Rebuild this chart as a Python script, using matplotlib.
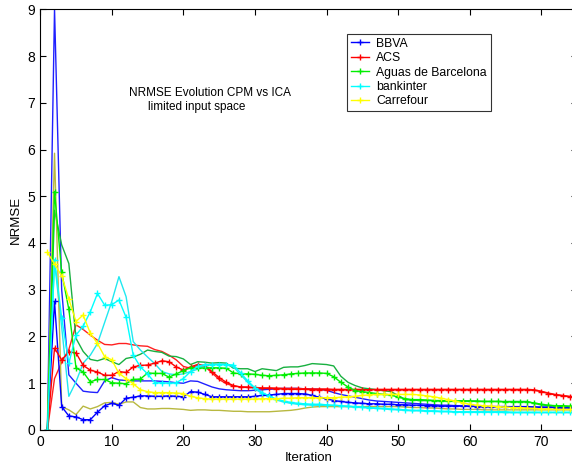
import matplotlib
matplotlib.use("Agg")
import matplotlib.pyplot as plt
import numpy as np

plt.rcParams['font.family'] = ['Liberation Sans', 'DejaVu Sans']

iterations = list(range(1, 76))

labels = ["BBVA", "ACS", "Aguas de Barcelona", "bankinter", "Carrefour"]

# CPM series (with + markers)
bbva_cpm = [0, 2.75, 0.50, 0.30, 0.28, 0.22, 0.22, 0.38, 0.52, 0.57,
            0.53, 0.68, 0.70, 0.73, 0.73, 0.72, 0.72, 0.73, 0.72, 0.71,
            0.82, 0.81, 0.76, 0.71, 0.71, 0.71, 0.71, 0.71, 0.71, 0.72,
            0.74, 0.75, 0.76, 0.78, 0.78, 0.78, 0.77, 0.74, 0.70, 0.67,
            0.63, 0.61, 0.59, 0.58, 0.57, 0.56, 0.56, 0.55, 0.55, 0.54,
            0.54, 0.53, 0.53, 0.52, 0.52, 0.51, 0.51, 0.51, 0.51, 0.51,
            0.50, 0.50, 0.50, 0.50, 0.50, 0.50, 0.50, 0.50, 0.49, 0.49,
            0.49, 0.48, 0.48, 0.48, 0.48]
acs_cpm = [0, 1.75, 1.50, 1.67, 1.65, 1.38, 1.28, 1.24, 1.17, 1.17,
           1.25, 1.23, 1.35, 1.38, 1.39, 1.43, 1.48, 1.46, 1.35, 1.28,
           1.35, 1.40, 1.38, 1.25, 1.12, 1.02, 0.95, 0.92, 0.91, 0.90,
           0.89, 0.89, 0.88, 0.88, 0.87, 0.87, 0.87, 0.86, 0.86, 0.86,
           0.86, 0.86, 0.86, 0.86, 0.86, 0.86, 0.86, 0.86, 0.86, 0.86,
           0.86, 0.86, 0.86, 0.86, 0.86, 0.86, 0.86, 0.86, 0.86, 0.86,
           0.86, 0.86, 0.86, 0.86, 0.86, 0.86, 0.86, 0.86, 0.85, 0.82,
           0.78, 0.75, 0.73, 0.71, 0.70]
aguas_cpm = [0, 5.10, 3.37, 2.58, 1.33, 1.24, 1.03, 1.08, 1.08, 1.01,
             1.00, 0.99, 1.08, 1.09, 1.22, 1.21, 1.21, 1.13, 1.20, 1.27,
             1.33, 1.32, 1.33, 1.33, 1.33, 1.32, 1.22, 1.20, 1.20, 1.19,
             1.17, 1.16, 1.17, 1.18, 1.20, 1.21, 1.22, 1.22, 1.22, 1.21,
             1.14, 1.02, 0.92, 0.84, 0.82, 0.80, 0.78, 0.76, 0.75, 0.70,
             0.67, 0.65, 0.65, 0.64, 0.63, 0.63, 0.62, 0.62, 0.62, 0.62,
             0.61, 0.61, 0.61, 0.61, 0.60, 0.60, 0.60, 0.60, 0.58, 0.55,
             0.53, 0.52, 0.52, 0.51, 0.51]
bankinter_cpm = [0, 3.64, 2.40, 1.43, 2.03, 2.22, 2.53, 2.92, 2.67, 2.68,
                 2.78, 2.41, 1.60, 1.35, 1.20, 1.01, 1.01, 1.00, 1.01, 1.10,
                 1.25, 1.36, 1.40, 1.40, 1.40, 1.40, 1.39, 1.22, 1.05, 0.90,
                 0.80, 0.73, 0.66, 0.62, 0.59, 0.57, 0.56, 0.55, 0.55, 0.54,
                 0.53, 0.52, 0.51, 0.50, 0.49, 0.48, 0.47, 0.46, 0.45, 0.44,
                 0.43, 0.42, 0.42, 0.41, 0.41, 0.40, 0.40, 0.39, 0.39, 0.39,
                 0.39, 0.39, 0.39, 0.39, 0.39, 0.38, 0.38, 0.38, 0.38, 0.38,
                 0.38, 0.38, 0.38, 0.38, 0.38]
carrefour_cpm = [3.80, 3.55, 3.30, 2.80, 2.32, 2.46, 2.07, 1.85, 1.57, 1.50,
                 1.21, 1.10, 0.99, 0.86, 0.82, 0.80, 0.80, 0.80, 0.79, 0.78,
                 0.72, 0.69, 0.67, 0.66, 0.66, 0.66, 0.66, 0.66, 0.66, 0.66,
                 0.67, 0.67, 0.67, 0.68, 0.68, 0.69, 0.69, 0.69, 0.69, 0.69,
                 0.69, 0.70, 0.71, 0.72, 0.74, 0.75, 0.76, 0.76, 0.76, 0.76,
                 0.76, 0.76, 0.75, 0.73, 0.71, 0.68, 0.65, 0.62, 0.58, 0.55,
                 0.53, 0.52, 0.51, 0.50, 0.49, 0.48, 0.48, 0.47, 0.46, 0.45,
                 0.45, 0.44, 0.44, 0.44, 0.44]

# ICA series (plain lines)
bbva_ica = [0, 9.00, 3.00, 1.18, 1.00, 0.83, 0.81, 0.80, 1.05, 1.12,
            1.07, 1.06, 1.05, 1.05, 1.05, 1.05, 1.04, 1.03, 1.01, 1.00,
            1.05, 1.04, 0.98, 0.92, 0.88, 0.86, 0.85, 0.84, 0.84, 0.85,
            0.86, 0.87, 0.88, 0.89, 0.89, 0.89, 0.88, 0.88, 0.87, 0.85,
            0.80, 0.76, 0.73, 0.70, 0.67, 0.64, 0.62, 0.61, 0.60, 0.59,
            0.58, 0.57, 0.56, 0.55, 0.54, 0.53, 0.53, 0.52, 0.52, 0.51,
            0.51, 0.50, 0.50, 0.50, 0.50, 0.49, 0.49, 0.49, 0.49, 0.48,
            0.48, 0.48, 0.47, 0.47, 0.47]
acs_ica = [0, 1.10, 1.45, 1.72, 2.25, 2.15, 2.03, 1.92, 1.83, 1.82,
           1.85, 1.85, 1.82, 1.80, 1.79, 1.72, 1.68, 1.60, 1.50, 1.36,
           1.32, 1.38, 1.36, 1.22, 1.08, 0.99, 0.94, 0.92, 0.92, 0.91,
           0.90, 0.90, 0.90, 0.89, 0.89, 0.89, 0.88, 0.88, 0.88, 0.88,
           0.87, 0.87, 0.87, 0.87, 0.87, 0.87, 0.87, 0.87, 0.87, 0.87,
           0.87, 0.87, 0.87, 0.87, 0.87, 0.87, 0.87, 0.87, 0.87, 0.87,
           0.87, 0.87, 0.87, 0.87, 0.87, 0.87, 0.87, 0.87, 0.86, 0.83,
           0.79, 0.76, 0.74, 0.72, 0.71]
aguas_ica = [0, 4.70, 3.96, 3.56, 1.96, 1.68, 1.51, 1.48, 1.53, 1.46,
             1.40, 1.53, 1.56, 1.62, 1.71, 1.68, 1.66, 1.58, 1.57, 1.52,
             1.40, 1.46, 1.45, 1.43, 1.44, 1.43, 1.32, 1.31, 1.31, 1.25,
             1.31, 1.29, 1.27, 1.34, 1.35, 1.35, 1.38, 1.42, 1.41, 1.40,
             1.37, 1.15, 1.02, 0.95, 0.90, 0.88, 0.86, 0.84, 0.82, 0.74,
             0.65, 0.64, 0.63, 0.63, 0.63, 0.62, 0.62, 0.62, 0.62, 0.62,
             0.62, 0.61, 0.61, 0.61, 0.61, 0.61, 0.61, 0.61, 0.57, 0.54,
             0.52, 0.51, 0.50, 0.50, 0.50]
bankinter_ica = [0, 3.60, 2.20, 0.72, 1.03, 1.43, 1.60, 1.85, 2.30, 2.75,
                 3.28, 2.85, 1.89, 1.71, 1.56, 1.42, 1.25, 1.20, 1.18, 1.20,
                 1.25, 1.30, 1.38, 1.40, 1.41, 1.40, 1.35, 1.18, 1.02, 0.88,
                 0.78, 0.70, 0.64, 0.60, 0.57, 0.55, 0.54, 0.53, 0.53, 0.52,
                 0.52, 0.51, 0.50, 0.49, 0.48, 0.47, 0.46, 0.45, 0.44, 0.43,
                 0.42, 0.41, 0.41, 0.40, 0.40, 0.39, 0.39, 0.38, 0.38, 0.38,
                 0.38, 0.38, 0.38, 0.38, 0.37, 0.37, 0.37, 0.37, 0.37, 0.37,
                 0.37, 0.37, 0.37, 0.37, 0.37]
carrefour_ica = [0, 5.92, 0.50, 0.43, 0.33, 0.51, 0.45, 0.50, 0.58, 0.59,
                 0.55, 0.60, 0.60, 0.48, 0.45, 0.45, 0.46, 0.46, 0.45, 0.44,
                 0.42, 0.43, 0.43, 0.42, 0.42, 0.41, 0.40, 0.40, 0.39, 0.39,
                 0.39, 0.39, 0.40, 0.41, 0.42, 0.44, 0.47, 0.49, 0.50, 0.50,
                 0.50, 0.50, 0.50, 0.50, 0.50, 0.50, 0.50, 0.50, 0.50, 0.50,
                 0.49, 0.48, 0.48, 0.47, 0.47, 0.46, 0.45, 0.45, 0.44, 0.44,
                 0.44, 0.43, 0.43, 0.43, 0.43, 0.43, 0.43, 0.43, 0.43, 0.43,
                 0.43, 0.43, 0.43, 0.43, 0.43]

cpm_series = [bbva_cpm, acs_cpm, aguas_cpm, bankinter_cpm, carrefour_cpm]
ica_series = [bbva_ica, acs_ica, aguas_ica, bankinter_ica, carrefour_ica]
cpm_colors = ["#0000ff", "#ff0000", "#00ee00", "#00ffff", "#ffff00"]
ica_colors = ["#2020ff", "#ff2020", "#18b040", "#20e8f0", "#b8b840"]

fig = plt.figure(figsize=(5.72, 4.66), dpi=100)
ax = fig.add_axes([0.0703, 0.0773, 0.9385, 0.9028])

for ys, c in zip(ica_series, ica_colors):
    ax.plot(iterations, ys, color=c, lw=1.0)
for ys, c, lab in zip(cpm_series, cpm_colors, labels):
    ax.plot(iterations, ys, color=c, lw=1.0, marker='+', markersize=5,
            markeredgewidth=1.0, label=lab)

ax.set_xlim(0, 75)
ax.set_ylim(0, 9)
ax.set_xticks([0, 10, 20, 30, 40, 50, 60, 70])
ax.set_yticks(range(0, 10))
ax.tick_params(direction='in', top=True, right=True, length=4, labelsize=10,
               width=0.8)
for s in ax.spines.values():
    s.set_linewidth(0.8)
ax.set_xlabel("Iteration", fontsize=9.5, labelpad=2)
ax.set_ylabel("NRMSE", fontsize=9.5, labelpad=4)

fig.text(0.3680, 1 - 93 / 466, "NRMSE Evolution CPM vs ICA", fontsize=8.5,
         ha='center', va='center')
fig.text(0.3440, 1 - 107 / 466, "limited input space", fontsize=8.5,
         ha='center', va='center')

leg = ax.legend(loc='upper left', bbox_to_anchor=(347 / 572, 1 - 34 / 466),
                bbox_transform=fig.transFigure, fontsize=8.8, frameon=True,
                fancybox=False, edgecolor='black', borderaxespad=0,
                handlelength=1.5, labelspacing=0.2, handletextpad=0.6,
                borderpad=0.3, markerscale=0.9)
leg.get_frame().set_linewidth(0.8)

fig.savefig("out.png", dpi=100)
